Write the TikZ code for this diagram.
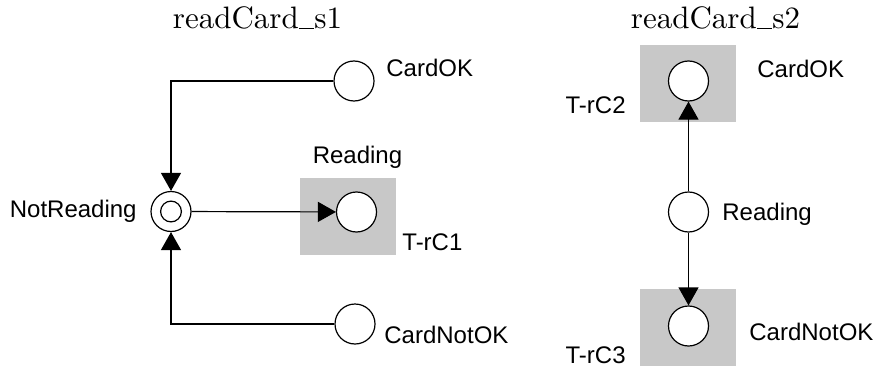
\documentclass[tikz,border=0pt]{standalone}
\usepackage{fontspec}
\usepackage{tikz}
\usetikzlibrary{arrows.meta,positioning}
\newfontfamily\netfont{Liberation Sans}
\newcommand{\lowbar}{\rule[-0.3pt]{5pt}{0.42pt}}
\definecolor{boxgray}{RGB}{200,200,200}
\tikzset{place/.style={draw,circle,fill=white,minimum size=20pt,inner sep=0pt,line width=0.6pt},
  marked/.style={place,path picture={\draw[line width=0.6pt] (path picture bounding box.center) circle (5.2pt);}},
  trans/.style={fill=boxgray,minimum width=48pt,minimum height=38.5pt,inner sep=0pt},
  lbl/.style={inner sep=0pt,font=\netfont\fontsize{12}{14}\selectfont},
  ttl/.style={inner sep=0pt,anchor=base,font=\fontsize{10}{12}\selectfont},
  arr/.style={-{Triangle[length=9pt,width=10pt]},line width=0.6pt}}

\begin{document}
\begin{tikzpicture}[x=0.5pt,y=-0.5pt]
\useasboundingbox (0,0) rectangle (877,369);
% readCard_s1
\node[ttl] (ttl1) at (257.5,28.5) {\scalebox{1.55}{readCard\lowbar s1}};
\node[trans] (t1) at (348,216) {};
\node[place] (ok1) at (354,81) {};
\node[marked] (nr) at (171,211.5) {};
\node[place] (rd1) at (356.5,212) {};
\node[place] (nok1) at (355,324) {};
\draw[arr] (ok1) -| (nr);
\draw[arr] (nok1) -| (nr);
\draw[arr] (nr) -- (rd1);
\node[lbl,anchor=base west] (lok1) at (386,77) {CardOK};
\node[lbl,anchor=base east] (lnr) at (137,217) {NotReading};
\node[lbl,anchor=base] (lrd1) at (357.5,163) {Reading};
\node[lbl,anchor=base west] (lt1) at (402,250) {T-rC1};
\node[lbl,anchor=base west] (lnok1) at (384,343) {CardNotOK};
% readCard_s2
\node[ttl] (ttl2) at (715.5,28.5) {\scalebox{1.55}{readCard\lowbar s2}};
\node[trans] (t2) at (688,83.5) {};
\node[trans] (t3) at (688,327) {};
\node[place] (ok2) at (688.5,81) {};
\node[place] (rd2) at (688.5,212) {};
\node[place] (nok2) at (688.5,326) {};
\draw[arr] (rd2) -- (ok2);
\draw[arr] (rd2) -- (nok2);
\node[lbl,anchor=base west] (lok2) at (757,77.5) {CardOK};
\node[lbl,anchor=base east] (lt2) at (626,113) {T-rC2};
\node[lbl,anchor=base west] (lrd2) at (722,220) {Reading};
\node[lbl,anchor=base west] (lnok2) at (749,340) {CardNotOK};
\node[lbl,anchor=base east] (lt3) at (626,363) {T-rC3};
\end{tikzpicture}
\end{document}
